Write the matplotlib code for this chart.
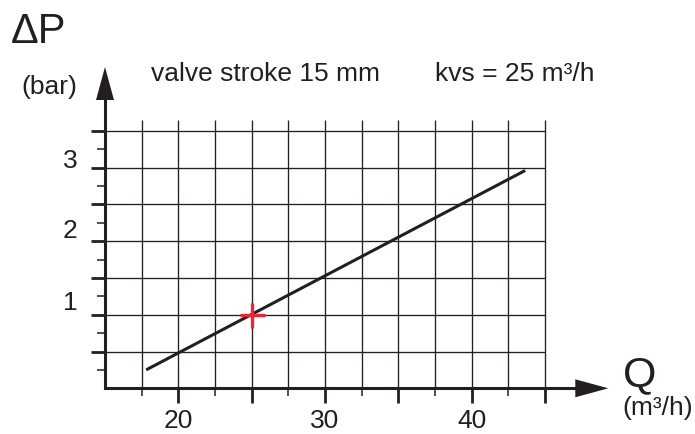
import numpy as np
import matplotlib.pyplot as plt

plt.rcParams['font.family'] = ['Liberation Sans', 'DejaVu Sans']

# data
q_line = [17.9, 43.55]        # m3/h
dp_line = [0.26, 2.95]        # bar
q_point = [25]
dp_point = [1.0]
x_labels = [20, 30, 40]
y_labels = [1, 2, 3]
q_grid = np.arange(17.5, 45.1, 2.5)
dp_grid = np.arange(0.5, 3.51, 0.5)
dp_minor = np.arange(0.25, 3.3, 0.5)

W, H = 695, 435
# pixel layout of the plot area
x0_px, y0_px = 105, 389.3     # origin (Q=15, dP=0)
sx, sy = 14.67, 73.6          # px per unit
q0 = 15
y_lab_shift = [13, 11.5, 8]   # px, labels sit above their line

ink = '#231f20'
red = '#ee2436'

fig = plt.figure(figsize=(W / 100, H / 100), dpi=100)
ax = fig.add_axes([0, 0, 1, 1])
ax.set_xlim(q0 - x0_px / sx, q0 + (W - x0_px) / sx)
ax.set_ylim(-(H - y0_px) / sy, y0_px / sy)
ax.axis('off')

def px(n, s):
    return n / s

top = px(y0_px - 120.7, sy)

# grid
ax.vlines(q_grid, 0, top, color=ink, lw=0.95)
ax.hlines(dp_grid, q0, 45, color=ink, lw=0.95)

# ticks below x axis / left of y axis
major_q = q_grid[(q_grid % 5) == 0]
minor_q = q_grid[(q_grid % 5) != 0]
ax.vlines(major_q, -px(15, sy), 0, color=ink, lw=2.0)
ax.vlines(minor_q, -px(8, sy), 0, color=ink, lw=1.1)
ax.hlines(dp_grid, q0 - px(14, sx), q0, color=ink, lw=2.0)
ax.hlines(dp_minor, q0 - px(8, sx), q0, color=ink, lw=1.1)

# axes with arrow heads
x_tip = q0 + px(608.3 - x0_px, sx)
y_tip = px(y0_px - 68, sy)
hl_x, hw_x = px(33, sx), px(9, sy)
hl_y, hw_y = px(33, sy), px(9, sx)
ax.plot([q0, x_tip - hl_x], [0, 0], color=ink, lw=2.2, solid_capstyle='projecting')
ax.plot([q0, q0], [0, y_tip - hl_y], color=ink, lw=2.2, solid_capstyle='projecting')
ax.fill([x_tip, x_tip - hl_x, x_tip - hl_x], [0, hw_x, -hw_x], color=ink, lw=0)
ax.fill([q0, q0 - hw_y, q0 + hw_y], [y_tip, y_tip - hl_y, y_tip - hl_y], color=ink, lw=0)

# characteristic line and operating point
ax.plot(q_line, dp_line, color=ink, lw=2.2)
ax.plot(q_point, dp_point, marker='+', ms=18, mew=2.4, color=red, ls='none')

# tick labels
for v in x_labels:
    ax.text(v, -px(421.5 - y0_px, sy), str(v), ha='center', va='center', fontsize=19, color=ink)
for v, d in zip(y_labels, y_lab_shift):
    ax.text(q0 - px(35, sx), v + px(d, sy), str(v), ha='center', va='center', fontsize=19, color=ink)

# titles and units
def ftext(x, y, s, **kw):
    fig.text(x / W, 1 - y / H, s, color=ink, **kw)

ftext(11, 43, 'ΔP', fontsize=30, ha='left', va='baseline')
ftext(49, 94, '(bar)', fontsize=19, ha='center', va='baseline')
ftext(151, 81, 'valve stroke 15 mm', fontsize=19, ha='left', va='baseline')
ftext(435, 81, 'kvs = 25 m³/h', fontsize=19, ha='left', va='baseline')
ftext(640, 386, 'Q', fontsize=31, ha='center', va='baseline')
ftext(658, 408, '(m³/h)', fontsize=19, ha='center', va='center')

fig.savefig('out.png', dpi=100)
